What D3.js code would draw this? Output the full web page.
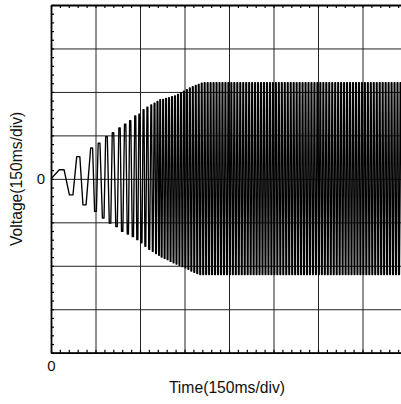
<!DOCTYPE html>
<html>
<head>
<meta charset="utf-8">
<script src="https://cdn.jsdelivr.net/npm/d3@7"></script>
<style>
body { margin: 0; background: #fff; }
svg { display: block; font-family: "Liberation Sans", Arial, sans-serif; }
</style>
</head>
<body>
<svg id="chart" width="401" height="404"></svg>
<script>
// time in ms (150 ms / div), level in divisions
var xGridMs = [0, 150, 300, 450, 600, 750, 900, 1050, 1200];
var yGridDiv = [-4, -3, -2, -1, 0, 1, 2, 3, 4];
var xTickLabels = ['0'];
var yTickLabels = ['0'];

// crest times of the trace
var crestMs = [36, 92, 137, 162, 187, 209, 231, 250, 267, 284, 298, 312, 325, 338, 349, 359, 368,
  378, 388, 398, 408, 418, 428, 438, 448, 458, 468, 478, 488, 498, 508, 518, 528, 538, 548, 558, 568,
  578, 588, 598, 608, 618, 628, 638, 648, 658, 668, 678, 688, 698, 708, 718, 728, 738, 748, 758, 768,
  778, 788, 798, 808, 818, 828, 838, 848, 858, 868, 878, 888, 898, 908, 918, 928, 938, 948, 958, 968,
  978, 988, 998, 1008, 1018, 1028, 1038, 1048, 1058, 1068, 1078, 1088, 1098, 1108, 1118, 1128, 1138,
  1148, 1158, 1168, 1178, 1188, 1198];
// crest levels while the amplitude grows, then it sits at satHigh
var crestLevel = [0.21, 0.51, 0.71, 0.82, 0.97, 1.06, 1.17, 1.26, 1.34, 1.45, 1.49, 1.59, 1.65, 1.70,
  1.74, 1.78, 1.82, 1.83, 1.85, 1.87, 1.89, 1.91, 1.94, 1.98, 2.02, 2.05, 2.09, 2.12, 2.15, 2.17, 2.20];
var satHigh = 2.21;

var troughMs = [68, 113, 150, 176, 199, 221, 240, 259, 276, 291, 305, 318, 331, 343, 354, 364, 373,
  383, 393, 403, 413, 423, 433, 443, 453, 463, 473, 483, 493, 503, 513, 523, 533, 543, 553, 563, 573,
  583, 593, 603, 613, 623, 633, 643, 653, 663, 673, 683, 693, 703, 713, 723, 733, 743, 753, 763, 773,
  783, 793, 803, 813, 823, 833, 843, 853, 863, 873, 883, 893, 903, 913, 923, 933, 943, 953, 963, 973,
  983, 993, 1003, 1013, 1023, 1033, 1043, 1053, 1063, 1073, 1083, 1093, 1103, 1113, 1123, 1133, 1143,
  1153, 1163, 1173, 1183, 1193];
var troughLevel = [-0.37, -0.60, -0.75, -0.90, -1.02, -1.10, -1.21, -1.27, -1.33, -1.40, -1.47, -1.55,
  -1.62, -1.67, -1.72, -1.76, -1.80, -1.83, -1.86, -1.90, -1.93, -1.96, -1.99, -2.02, -2.05, -2.08,
  -2.12, -2.15, -2.18];
var satLow = -2.2;

var svg = d3.select('#chart');
var plotL = 51, plotR = 407, plotT = 5, plotB = 352.7;

var x = d3.scaleLinear().domain([0, 1200]).range([plotL, plotR]);
var y = d3.scaleLinear().domain([-4, 4]).range([plotB, plotT]);

// grid
var gx = svg.append('g')
  .attr('transform', 'translate(0,' + plotB + ')')
  .call(d3.axisBottom(x).tickValues(xGridMs).tickSize(-(plotB - plotT)).tickFormat(''));
var gy = svg.append('g')
  .attr('transform', 'translate(' + plotL + ',0)')
  .call(d3.axisLeft(y).tickValues(yGridDiv).tickSize(-(plotR - plotL)).tickFormat(''));
[gx, gy].forEach(function (g) {
  g.select('.domain').remove();
  g.selectAll('.tick line').attr('stroke', '#222').attr('stroke-width', 1);
});

// the trace: each crest / trough gets a short flat top
var extrema = [];
crestMs.forEach(function (t, i) {
  extrema.push({t: t, v: i < crestLevel.length ? crestLevel[i] : satHigh});
});
troughMs.forEach(function (t, i) {
  extrema.push({t: t, v: i < troughLevel.length ? troughLevel[i] : satLow});
});
extrema.sort(function (a, b) { return a.t - b.t; });

var pts = [{t: 0, v: 0}];
extrema.forEach(function (d, i) {
  var prev = i ? extrema[i - 1].t : 0;
  var next = i < extrema.length - 1 ? extrema[i + 1].t : 1200;
  var w = 0.25 * Math.min(d.t - prev, next - d.t);
  pts.push({t: d.t - w, v: d.v});
  pts.push({t: d.t + w, v: d.v});
});

var line = d3.line()
  .x(function (d) { return x(d.t); })
  .y(function (d) { return y(d.v); });

svg.append('path')
  .datum(pts)
  .attr('d', line)
  .attr('fill', 'none')
  .attr('stroke', '#000')
  .attr('stroke-width', 1.35)
  .attr('stroke-linejoin', 'round');

// frame and minor ticks (ticks point inward)
var minorMs = d3.range(0, 1201, 30);
var minorDiv = d3.range(-4, 4.01, 0.2);

var tb = svg.append('g')
  .attr('transform', 'translate(0,' + plotB + ')')
  .call(d3.axisBottom(x).tickValues(minorMs).tickSize(-3).tickSizeOuter(0).tickFormat(''));
var tt = svg.append('g')
  .attr('transform', 'translate(0,' + plotT + ')')
  .call(d3.axisTop(x).tickValues(minorMs).tickSize(-3).tickSizeOuter(0).tickFormat(''));
var tl = svg.append('g')
  .attr('transform', 'translate(' + plotL + ',0)')
  .call(d3.axisLeft(y).tickValues(minorDiv).tickSize(-3).tickSizeOuter(0).tickFormat(''));
[tb, tt, tl].forEach(function (g) {
  g.select('.domain').attr('stroke', '#000').attr('stroke-width', 1.8);
  g.selectAll('.tick line').attr('stroke', '#000').attr('stroke-width', 1.2);
});

// tick labels
var lx = svg.append('g')
  .attr('transform', 'translate(0,' + plotB + ')')
  .call(d3.axisBottom(x).tickValues([0]).tickSize(0).tickPadding(8)
    .tickFormat(function (d, i) { return xTickLabels[i]; }));
var ly = svg.append('g')
  .attr('transform', 'translate(' + plotL + ',0)')
  .call(d3.axisLeft(y).tickValues([0]).tickSize(0).tickPadding(6)
    .tickFormat(function (d, i) { return yTickLabels[i]; }));
[lx, ly].forEach(function (g) {
  g.select('.domain').remove();
  g.selectAll('text').attr('font-size', 15).attr('fill', '#111')
    .attr('font-family', '"Liberation Sans", Arial, sans-serif');
});

svg.append('text')
  .attr('x', 227)
  .attr('y', 392.5)
  .attr('text-anchor', 'middle')
  .attr('font-size', 15.7)
  .attr('fill', '#111')
  .text('Time(150ms/div)');

svg.append('text')
  .attr('transform', 'translate(22,' + y(0) + ') rotate(-90)')
  .attr('text-anchor', 'middle')
  .attr('font-size', 15.7)
  .attr('fill', '#111')
  .text('Voltage(150ms/div)');
</script>
</body>
</html>
